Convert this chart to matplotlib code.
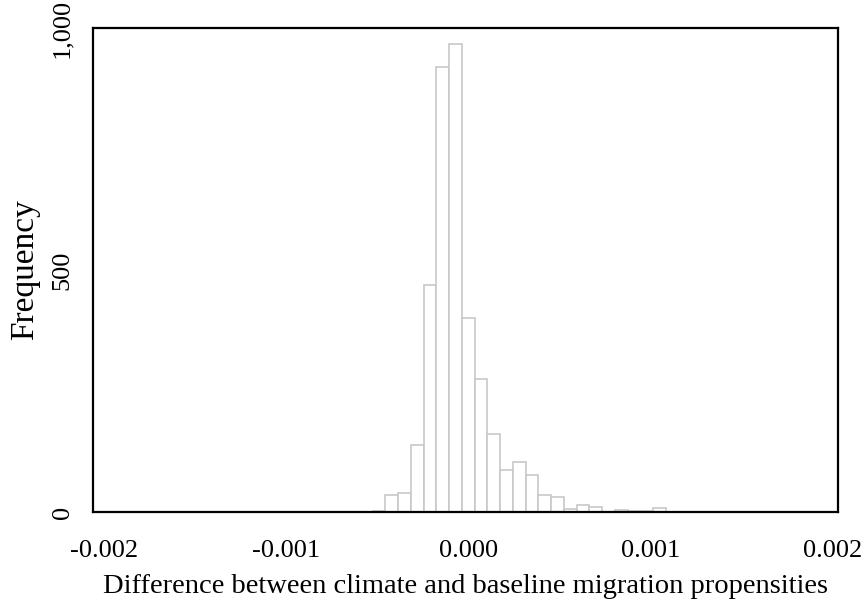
import numpy as np
from matplotlib import pyplot as plt

# histogram
bin_start = -0.000525
bin_width = 0.00007
counts = [3, 35, 40, 138, 468, 919, 966, 400, 275, 161, 86, 104, 77,
          35, 32, 7, 14, 10, 0, 5, 3, 3, 8, 0, 1]
x_ticks = [-0.002, -0.001, 0.0, 0.001, 0.002]
x_tick_labels = ["-0.002", "-0.001", "0.000", "0.001", "0.002"]
y_ticks = [0, 500, 1000]
y_tick_labels = ["0", "500", "1,000"]

plt.rcParams['font.family'] = ['Liberation Serif', 'DejaVu Serif']

fig = plt.figure(figsize=(8.64, 6.05), dpi=100)
ax = fig.add_axes([0.1076, 0.1537, 0.8623, 0.8000])

lefts = bin_start + bin_width * np.arange(len(counts))
ax.bar(lefts, counts, width=bin_width, align='edge',
       facecolor='white', edgecolor='#c8c8c8', linewidth=1.2)

ax.set_xlim(-0.00206, 0.00203)
ax.set_ylim(0, 1000)

ax.set_xticks(x_ticks)
ax.set_xticklabels(x_tick_labels, fontsize=19)
ax.set_yticks(y_ticks)
ax.set_yticklabels(y_tick_labels, fontsize=19, rotation=90, va='center')
ax.tick_params(axis='both', length=0)
ax.tick_params(axis='x', pad=20)
ax.tick_params(axis='y', pad=14)

for spine in ax.spines.values():
    spine.set_linewidth(1.6)
    spine.set_color('black')

ax.set_xlabel("Difference between climate and baseline migration propensities",
              fontsize=20.5, labelpad=9)
ax.set_ylabel("Frequency", fontsize=24, labelpad=8)

fig.savefig("out.png", dpi=100)
